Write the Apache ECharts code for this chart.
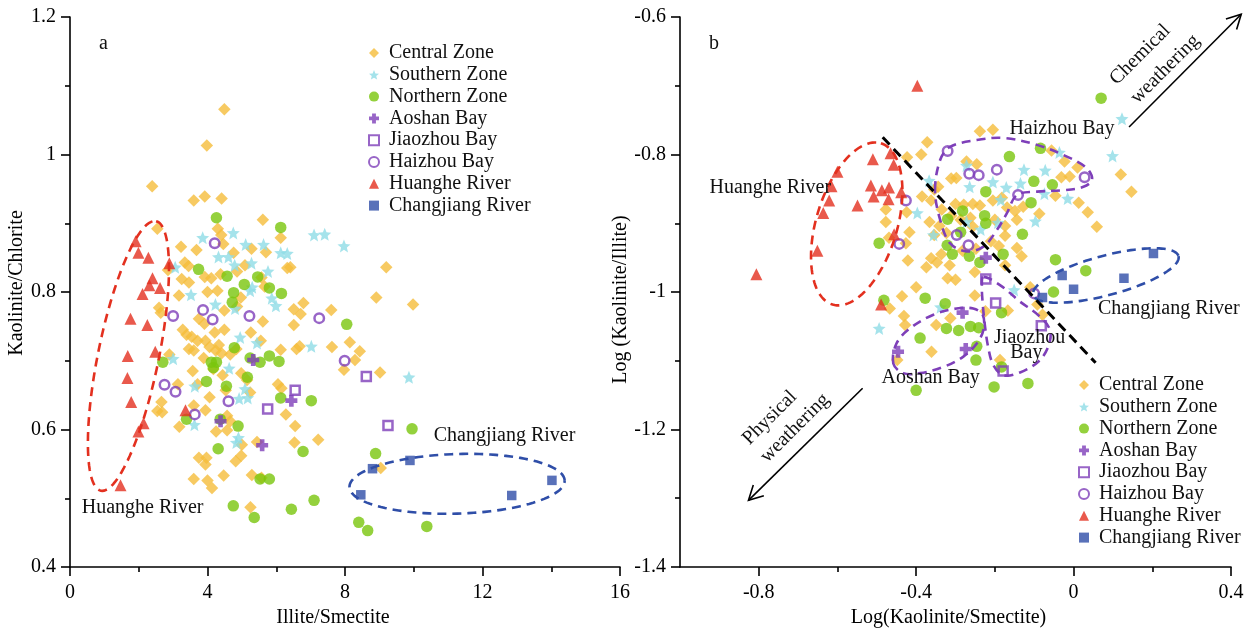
<!DOCTYPE html>
<html><head><meta charset="utf-8">
<script src="https://cdn.jsdelivr.net/npm/echarts@6/dist/echarts.min.js"></script>
<style>html,body{margin:0;padding:0;background:#fff}#c{width:1251px;height:633px}</style>
</head><body><div id="c"></div>
<script>
// ---------- names ----------
const seriesNames = ['Central Zone','Southern Zone','Northern Zone','Aoshan Bay','Jiaozhou Bay','Haizhou Bay','Huanghe River','Changjiang River'];

// ---------- panel a : Illite/Smectite vs Kaolinite/Chlorite ----------
const centralA = [[4.49,1.066],[3.98,1.013],[2.39,0.954],[3.60,0.933],[3.92,0.939],[4.41,0.936],[5.61,0.905],[2.54,0.892],[4.30,0.892],[4.40,0.883],[6.13,0.879],[3.23,0.866],[3.68,0.861],[4.46,0.870],[5.28,0.863],[5.70,0.858],[4.76,0.857],[6.41,0.836],[6.32,0.835],[9.20,0.836],[3.34,0.843],[3.45,0.838],[5.09,0.839],[2.85,0.832],[3.25,0.819],[3.46,0.814],[3.92,0.822],[4.11,0.820],[4.38,0.826],[5.57,0.821],[5.66,0.808],[4.86,0.830],[4.29,0.802],[4.00,0.800],[3.17,0.795],[4.97,0.792],[8.91,0.792],[9.98,0.782],[2.59,0.777],[2.64,0.770],[4.49,0.773],[4.86,0.779],[6.79,0.784],[6.51,0.775],[6.71,0.768],[7.60,0.774],[5.61,0.757],[3.75,0.761],[3.91,0.754],[6.51,0.752],[4.49,0.745],[3.28,0.745],[3.39,0.738],[3.54,0.735],[4.21,0.741],[5.26,0.741],[5.55,0.729],[8.14,0.727],[3.71,0.729],[3.94,0.729],[4.06,0.720],[4.33,0.723],[4.84,0.717],[6.13,0.716],[6.59,0.717],[6.68,0.721],[7.62,0.720],[8.43,0.714],[3.46,0.717],[3.60,0.715],[2.89,0.709],[4.66,0.709],[4.24,0.715],[4.41,0.711],[3.89,0.704],[8.29,0.701],[7.97,0.687],[9.02,0.683],[3.57,0.685],[4.17,0.688],[4.44,0.679],[4.98,0.682],[5.15,0.672],[3.14,0.666],[3.71,0.666],[6.05,0.666],[6.15,0.660],[4.53,0.657],[5.24,0.654],[2.66,0.640],[4.06,0.647],[2.68,0.625],[2.54,0.627],[3.60,0.635],[3.94,0.628],[4.57,0.620],[4.66,0.612],[3.18,0.604],[6.28,0.622],[6.55,0.605],[4.25,0.597],[4.57,0.599],[6.53,0.581],[7.22,0.585],[5.00,0.578],[5.44,0.582],[3.75,0.559],[3.97,0.559],[3.94,0.549],[4.82,0.554],[4.98,0.562],[3.60,0.528],[4.00,0.526],[4.13,0.515],[4.47,0.533],[5.29,0.534],[5.57,0.530],[9.04,0.544],[5.25,0.487]];
const southernA = [[3.86,0.879],[4.75,0.886],[7.10,0.883],[7.41,0.884],[7.97,0.867],[4.32,0.851],[4.61,0.851],[5.11,0.869],[5.63,0.869],[6.13,0.857],[6.32,0.856],[4.79,0.839],[5.28,0.842],[3.06,0.836],[5.76,0.830],[3.52,0.796],[5.24,0.802],[5.30,0.807],[5.87,0.791],[5.99,0.780],[4.23,0.782],[4.80,0.776],[4.95,0.734],[5.44,0.726],[7.02,0.721],[3.00,0.703],[4.63,0.689],[3.63,0.663],[5.09,0.659],[5.17,0.646],[4.92,0.645],[9.86,0.676],[3.62,0.607],[4.90,0.588],[4.84,0.581]];
const northernA = [[4.26,0.908],[6.13,0.894],[3.74,0.833],[4.57,0.823],[5.07,0.811],[5.46,0.822],[5.80,0.806],[6.15,0.798],[4.76,0.799],[4.72,0.785],[8.05,0.753],[4.78,0.719],[5.80,0.707],[6.08,0.699],[5.24,0.704],[5.53,0.698],[2.70,0.698],[4.11,0.698],[4.26,0.698],[4.17,0.690],[3.97,0.670],[5.16,0.676],[4.55,0.663],[6.13,0.646],[7.02,0.642],[3.39,0.615],[4.37,0.615],[4.89,0.605],[9.95,0.601],[4.31,0.572],[6.78,0.568],[8.89,0.565],[5.53,0.528],[5.80,0.528],[7.10,0.497],[4.75,0.489],[6.44,0.484],[5.36,0.472],[8.40,0.465],[8.66,0.453],[10.38,0.459]];
const aoshanA = [[5.33,0.701],[6.44,0.642],[4.38,0.612],[5.59,0.577]];
const jiaozhouA = [[8.62,0.677],[6.55,0.657],[5.75,0.630],[9.25,0.606]];
const haizhouA = [[4.21,0.871],[3.87,0.774],[4.15,0.760],[5.22,0.765],[3.00,0.765],[7.25,0.762],[7.99,0.700],[2.75,0.665],[3.07,0.655],[4.61,0.641],[3.63,0.622]];
const huangheA = [[1.91,0.874],[1.99,0.857],[2.28,0.850],[2.89,0.842],[2.40,0.820],[2.31,0.810],[2.62,0.806],[2.11,0.797],[1.76,0.761],[2.25,0.752],[2.48,0.713],[1.68,0.707],[1.67,0.675],[1.78,0.640],[3.36,0.628],[2.14,0.609],[1.99,0.597],[1.47,0.519]];
const changjiangA = [[8.80,0.543],[9.89,0.555],[8.46,0.505],[12.85,0.504],[14.02,0.526]];

// ---------- panel b : Log(Kaolinite/Smectite) vs Log(Kaolinite/Illite) ----------
const centralB = [[-0.238,-0.766],[-0.205,-0.764],[-0.372,-0.782],[-0.387,-0.800],[-0.423,-0.804],[-0.056,-0.794],[-0.023,-0.810],[-0.272,-0.810],[-0.246,-0.814],[0.010,-0.819],[0.120,-0.829],[0.147,-0.854],[-0.031,-0.833],[-0.010,-0.832],[-0.311,-0.835],[-0.298,-0.834],[-0.344,-0.847],[-0.354,-0.851],[-0.385,-0.861],[-0.362,-0.867],[-0.335,-0.880],[-0.300,-0.872],[-0.279,-0.873],[-0.256,-0.872],[-0.238,-0.874],[-0.205,-0.867],[-0.182,-0.863],[-0.169,-0.877],[-0.149,-0.882],[-0.128,-0.876],[-0.046,-0.860],[0.013,-0.870],[0.036,-0.884],[0.059,-0.905],[-0.087,-0.886],[-0.477,-0.880],[-0.477,-0.898],[-0.424,-0.884],[-0.417,-0.913],[-0.426,-0.929],[-0.469,-0.921],[-0.311,-0.889],[-0.287,-0.895],[-0.262,-0.892],[-0.256,-0.905],[-0.200,-0.895],[-0.174,-0.904],[-0.144,-0.895],[-0.366,-0.898],[-0.341,-0.904],[-0.354,-0.917],[-0.323,-0.914],[-0.174,-0.918],[-0.210,-0.926],[-0.144,-0.936],[-0.132,-0.948],[-0.190,-0.933],[-0.248,-0.937],[-0.282,-0.940],[-0.336,-0.945],[-0.362,-0.951],[-0.374,-0.964],[-0.421,-0.954],[-0.347,-0.957],[-0.315,-0.961],[-0.251,-0.971],[-0.174,-0.961],[-0.320,-0.980],[-0.300,-0.982],[-0.400,-0.993],[-0.251,-1.005],[-0.436,-1.006],[-0.110,-0.993],[-0.092,-1.018],[-0.079,-1.033],[-0.167,-1.027],[-0.224,-1.028],[-0.467,-1.024],[-0.431,-1.035],[-0.428,-1.048],[-0.349,-1.048],[-0.313,-1.038],[-0.361,-1.087],[-0.448,-1.099],[-0.187,-1.099]];
const southernB = [[0.123,-0.748],[0.099,-0.802],[-0.367,-0.838],[-0.126,-0.822],[-0.072,-0.823],[-0.272,-0.816],[-0.036,-0.797],[-0.264,-0.847],[-0.205,-0.840],[-0.171,-0.848],[-0.185,-0.866],[-0.135,-0.842],[-0.074,-0.857],[-0.015,-0.864],[-0.397,-0.885],[-0.272,-0.898],[-0.192,-0.899],[-0.097,-0.897],[-0.356,-0.917],[-0.236,-0.909],[-0.151,-0.997],[-0.494,-1.053],[-0.338,-1.022]];
const northernB = [[0.070,-0.718],[-0.084,-0.791],[-0.163,-0.803],[-0.101,-0.839],[-0.054,-0.844],[-0.223,-0.854],[-0.108,-0.870],[-0.282,-0.882],[-0.226,-0.889],[-0.223,-0.900],[-0.320,-0.894],[-0.287,-0.913],[-0.130,-0.916],[-0.494,-0.929],[-0.321,-0.932],[-0.308,-0.945],[-0.265,-0.948],[-0.238,-0.957],[-0.179,-0.945],[-0.046,-0.953],[0.031,-0.969],[-0.051,-1.000],[-0.482,-1.012],[-0.377,-1.009],[-0.326,-1.017],[-0.183,-1.030],[-0.390,-1.067],[-0.323,-1.053],[-0.292,-1.056],[-0.262,-1.050],[-0.241,-1.052],[-0.246,-1.079],[-0.248,-1.099],[-0.183,-1.109],[-0.400,-1.143],[-0.202,-1.138],[-0.116,-1.133]];
const aoshanB = [[-0.223,-0.950],[-0.282,-1.030],[-0.274,-1.083],[-0.446,-1.087]];
const jiaozhouB = [[-0.223,-0.981],[-0.198,-1.016],[-0.082,-1.049],[-0.179,-1.115]];
const haizhouB = [[-0.320,-0.795],[-0.265,-0.828],[-0.241,-0.830],[-0.195,-0.822],[0.028,-0.833],[-0.141,-0.859],[-0.426,-0.867],[-0.297,-0.917],[-0.267,-0.932],[-0.443,-0.930],[-0.100,-1.002]];
const huangheB = [[-0.397,-0.700],[-0.510,-0.807],[-0.465,-0.798],[-0.457,-0.815],[-0.600,-0.825],[-0.615,-0.846],[-0.621,-0.867],[-0.515,-0.845],[-0.508,-0.861],[-0.487,-0.852],[-0.469,-0.848],[-0.470,-0.865],[-0.438,-0.855],[-0.549,-0.874],[-0.636,-0.885],[-0.456,-0.916],[-0.651,-0.940],[-0.806,-0.974],[-0.489,-1.018]];
const changjiangB = [[0.203,-0.944],[0.128,-0.980],[-0.029,-0.976],[0.000,-0.996],[-0.079,-1.008]];

// ---------- axis tick labels ----------
const xTicksA = [0,4,8,12,16];
const yTicksA = [0.4,0.6,0.8,1.0,1.2];
const xTicksB = [-0.8,-0.4,0,0.4];
const xMinorB = [-0.6,-0.2,0.2];

// ---------- annotations (data units) ----------
const ellipsesA = [
  {center:[1.70,0.707], u:[0.805,0.196], v:[0.862,-0.0094], color:'#E3301F'},
  {center:[11.26,0.521], u:[3.13,0.0044], v:[0,0.0434], color:'#2F4EA8'}
];
const ellipsesB = [
  {center:[-0.551,-0.901], u:[0.0615,0.1173], v:[0.0985,-0.0170], color:'#E3301F'},
  {center:[0.082,-0.976], u:[0.1846,0.0282], v:[0.0130,-0.0278], color:'#2F4EA8'}
];
const haizhouLoop = [[-0.352,-0.852],[-0.339,-0.808],[-0.314,-0.789],[-0.246,-0.779],[-0.178,-0.776],[-0.093,-0.786],[-0.017,-0.803],[0.034,-0.820],[0.047,-0.837],[0.025,-0.847],[-0.026,-0.852],[-0.093,-0.854],[-0.144,-0.859],[-0.170,-0.886],[-0.195,-0.910],[-0.229,-0.934],[-0.271,-0.941],[-0.314,-0.929],[-0.339,-0.895]];
const aoshanLoop = [[-0.458,-1.104],[-0.450,-1.075],[-0.416,-1.053],[-0.356,-1.033],[-0.297,-1.024],[-0.255,-1.024],[-0.231,-1.033],[-0.229,-1.055],[-0.246,-1.075],[-0.280,-1.094],[-0.331,-1.109],[-0.390,-1.118],[-0.433,-1.118]];
const jiaozhouLoop = [[-0.229,-0.978],[-0.187,-0.990],[-0.136,-1.014],[-0.089,-1.034],[-0.060,-1.055],[-0.064,-1.079],[-0.089,-1.101],[-0.136,-1.117],[-0.178,-1.121],[-0.204,-1.106],[-0.217,-1.080],[-0.225,-1.050],[-0.231,-1.016],[-0.233,-0.990]];
const dividerLine = [[-0.485,-0.775],[0.056,-1.103]];
const arrowsB = [[[0.141,-0.760],[0.426,-0.596]], [[-0.536,-1.140],[-0.826,-1.303]]];
const textsA = [
  {pos:[0.343,0.486], text:'Huanghe River'},
  {pos:[10.58,0.591], text:'Changjiang River'}
];
const textsB = [
  {pos:[-0.163,-0.762], text:'Haizhou Bay'},
  {pos:[-0.925,-0.848], text:'Huanghe River'},
  {pos:[0.062,-1.024], text:'Changjiang River'},
  {pos:[-0.202,-1.067], text:'Jiaozhou'},
  {pos:[-0.161,-1.088], text:'Bay'},
  {pos:[-0.488,-1.125], text:'Aoshan Bay'}
];
const rotTextsB = [
  {pos:[0.169,-0.655], text:'Chemical'},
  {pos:[0.233,-0.676], text:'weathering'},
  {pos:[-0.772,-1.183], text:'Physical'},
  {pos:[-0.708,-1.198], text:'weathering'}
];

// ---------- styles ----------
const FONT = '"Liberation Serif", "Times New Roman", serif';
const PURPLE = '#7E3FB9';
const SYM = {
  star: 'path://M0,-10L2.645,-3.641L9.511,-3.09L4.28,1.391L5.878,8.09L0,4.5L-5.878,8.09L-4.28,1.391L-9.511,-3.09L-2.645,-3.641Z',
  plus: 'path://M-2.5,-6.5H2.5V-2.5H6.5V2.5H2.5V6.5H-2.5V2.5H-6.5V-2.5H-2.5Z'
};
const STYLE = {
  'Central Zone': {symbol:'diamond', symbolSize:12.5, itemStyle:{color:'#F5BD3B'}},
  'Southern Zone': {symbol:SYM.star, symbolSize:13, itemStyle:{color:'#8EDCE6'}},
  'Northern Zone': {symbol:'circle', symbolSize:11.5, itemStyle:{color:'#79C60C'}},
  'Aoshan Bay': {symbol:SYM.plus, symbolSize:12, itemStyle:{color:PURPLE}},
  'Jiaozhou Bay': {symbol:'rect', symbolSize:9, itemStyle:{color:'rgba(255,255,255,0)', borderColor:PURPLE, borderWidth:2.5}},
  'Haizhou Bay': {symbol:'circle', symbolSize:9.5, itemStyle:{color:'rgba(255,255,255,0)', borderColor:PURPLE, borderWidth:2.5}},
  'Huanghe River': {symbol:'triangle', symbolSize:12, itemStyle:{color:'#E3301F'}},
  'Changjiang River': {symbol:'rect', symbolSize:9.5, itemStyle:{color:'#2F4EA8'}}
};
const dataA = [centralA, southernA, northernA, aoshanA, jiaozhouA, haizhouA, huangheA, changjiangA];
const dataB = [centralB, southernB, northernB, aoshanB, jiaozhouB, haizhouB, huangheB, changjiangB];

function scatter(name, data, idx) {
  const s = STYLE[name];
  return {
    type:'scatter', name, data, xAxisIndex: idx, yAxisIndex: idx,
    symbol: s.symbol, symbolSize: s.symbolSize, itemStyle: s.itemStyle,
    emphasis:{disabled:true}, z: 2
  };
}

function ellipsePoints(api, e) {
  const pts = [];
  for (let k = 0; k <= 120; k++) {
    const t = k / 120 * Math.PI * 2;
    const c = Math.cos(t), s = Math.sin(t);
    pts.push(api.coord([e.center[0] + e.u[0]*c + e.v[0]*s, e.center[1] + e.u[1]*c + e.v[1]*s]));
  }
  return pts;
}
const dashStyle = (color) => ({fill:'none', stroke:color, lineWidth:2.6, lineDash:[9,6]});
const textStyle = (t, align) => ({text:t, font:'20px ' + FONT, fill:'#111', align: align || 'left', verticalAlign:'middle'});

function annotA(params, api) {
  const children = [];
  ellipsesA.forEach(e => children.push({type:'polyline', shape:{points: ellipsePoints(api, e)}, style: dashStyle(e.color)}));
  textsA.forEach(t => { const p = api.coord(t.pos); children.push({type:'text', x:p[0], y:p[1], style:textStyle(t.text)}); });
  return {type:'group', children};
}
function arrowShape(api, a) {
  const p0 = api.coord(a[0]), p1 = api.coord(a[1]);
  const dx = p1[0]-p0[0], dy = p1[1]-p0[1], L = Math.hypot(dx, dy);
  const ux = dx/L, uy = dy/L, h = 16, ang = 28 * Math.PI/180;
  const rot = (x, y, a) => [x*Math.cos(a) - y*Math.sin(a), x*Math.sin(a) + y*Math.cos(a)];
  const l = rot(-ux, -uy, ang), r = rot(-ux, -uy, -ang);
  return [
    {type:'line', shape:{x1:p0[0], y1:p0[1], x2:p1[0], y2:p1[1]}, style:{stroke:'#000', lineWidth:1.6}},
    {type:'polyline', shape:{points:[[p1[0]+l[0]*h, p1[1]+l[1]*h], p1, [p1[0]+r[0]*h, p1[1]+r[1]*h]]}, style:{stroke:'#000', fill:'none', lineWidth:1.6}}
  ];
}
function annotB(params, api) {
  const children = [];
  ellipsesB.forEach(e => children.push({type:'polyline', shape:{points: ellipsePoints(api, e)}, style: dashStyle(e.color)}));
  [haizhouLoop, aoshanLoop, jiaozhouLoop].forEach(loop => children.push({type:'polygon', shape:{points: loop.map(p => api.coord(p)), smooth:0.35}, style: dashStyle(PURPLE)}));
  const d0 = api.coord(dividerLine[0]), d1 = api.coord(dividerLine[1]);
  children.push({type:'line', shape:{x1:d0[0], y1:d0[1], x2:d1[0], y2:d1[1]}, style:{stroke:'#000', lineWidth:3, lineDash:[10,6]}});
  arrowsB.forEach(a => arrowShape(api, a).forEach(c => children.push(c)));
  textsB.forEach(t => { const p = api.coord(t.pos); children.push({type:'text', x:p[0], y:p[1], style:textStyle(t.text)}); });
  rotTextsB.forEach(t => { const p = api.coord(t.pos); children.push({type:'text', x:p[0], y:p[1], rotation:Math.PI/4, style:textStyle(t.text, 'center')}); });
  return {type:'group', children};
}

const axisText = {fontFamily: FONT, fontSize: 20, color: '#000'};
const lineBlack = {color:'#000', width:1.6};
function baseAxis(extra) {
  return Object.assign({
    type:'value',
    axisLine:{show:true, onZero:false, lineStyle:lineBlack},
    axisTick:{show:true, length:9, lineStyle:lineBlack},
    minorTick:{show:true, splitNumber:2, length:5, lineStyle:lineBlack},
    axisLabel:Object.assign({}, axisText),
    splitLine:{show:false}, minorSplitLine:{show:false},
    nameTextStyle:Object.assign({}, axisText), nameLocation:'middle'
  }, extra);
}

const legendBase = {
  data: seriesNames, orient:'vertical', itemWidth:10, itemHeight:10, itemGap:1.8,
  selectedMode:false,
  textStyle:{fontFamily:FONT, fontSize:20, color:'#111', lineHeight:20, padding:[0,0,0,5]}
};

const option = {
  animation:false,
  backgroundColor:'#fff',
  grid:[
    {left:70, right:631, top:17, bottom:66},
    {left:680, right:20, top:17, bottom:66}
  ],
  xAxis:[
    baseAxis({gridIndex:0, min:xTicksA[0], max:xTicksA[xTicksA.length-1], interval:4, name:'Illite/Smectite', nameGap:41,
      nameTextStyle:Object.assign({padding:[0,24,0,0]}, axisText), axisLabel:Object.assign({margin:16}, axisText)}),
    baseAxis({gridIndex:1, position:'bottom', min:-1.0, max:0.4, interval:0.2, name:'Log(Kaolinite/Smectite)', nameGap:41,
      nameTextStyle:Object.assign({padding:[0,14,0,0]}, axisText),
      minorTick:{show:false},
      axisTick:{show:true, length:9, lineStyle:lineBlack, customValues:xTicksB},
      axisLabel:Object.assign({margin:16, customValues:xTicksB}, axisText)}),
    baseAxis({gridIndex:1, position:'bottom', min:-1.0, max:0.4, interval:0.2,
      axisLine:{show:false}, axisLabel:{show:false}, minorTick:{show:false},
      axisTick:{show:true, length:5, lineStyle:lineBlack, customValues:xMinorB}})
  ],
  yAxis:[
    baseAxis({gridIndex:0, min:yTicksA[0], max:yTicksA[yTicksA.length-1], interval:0.2, name:'Kaolinite/Chlorite', nameGap:42,
      nameTextStyle:Object.assign({padding:[0,0,0,18]}, axisText), axisLabel:Object.assign({margin:14}, axisText)}),
    baseAxis({gridIndex:1, min:-1.4, max:-0.6, interval:0.2, name:'Log (Kaolinite/Illite)', nameGap:40,
      nameTextStyle:Object.assign({padding:[0,15,0,0]}, axisText), axisLabel:Object.assign({margin:14}, axisText)})
  ],
  legend:[
    Object.assign({left:363, top:38}, legendBase),
    Object.assign({left:1073, top:370}, legendBase)
  ],
  graphic:[
    {type:'text', left:99, top:34, style:{text:'a', font:'20px ' + FONT, fill:'#111'}},
    {type:'text', left:709, top:34, style:{text:'b', font:'20px ' + FONT, fill:'#111'}}
  ],
  series: [
    ...seriesNames.map((n, i) => scatter(n, dataA[i], 0)),
    ...seriesNames.map((n, i) => scatter(n, dataB[i], 1)),
    {type:'custom', xAxisIndex:0, yAxisIndex:0, data:[[8,0.8]], renderItem:annotA, clip:false, z:5, silent:true},
    {type:'custom', xAxisIndex:1, yAxisIndex:1, data:[[-0.4,-1.0]], renderItem:annotB, clip:false, z:5, silent:true}
  ]
};
const chart = echarts.init(document.getElementById('c'), null, {renderer:'canvas'});
chart.setOption(option);
</script></body></html>
